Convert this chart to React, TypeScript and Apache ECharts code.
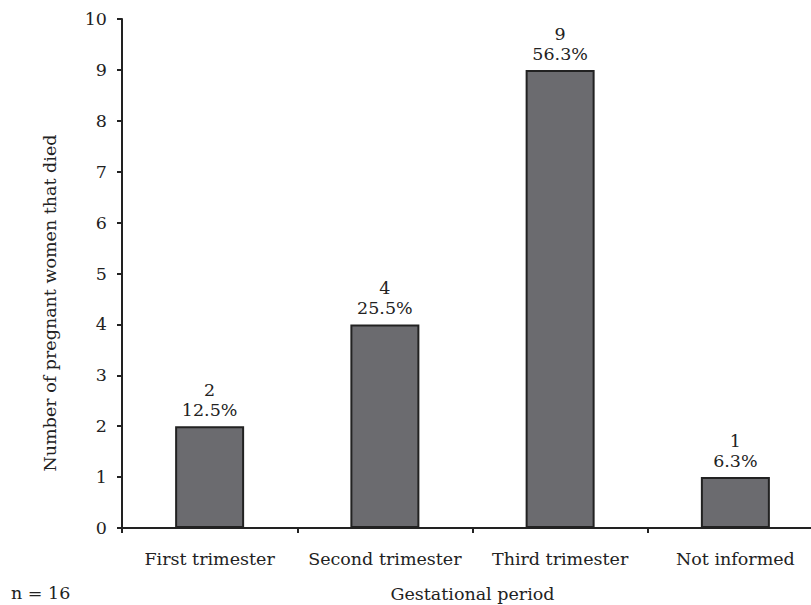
import React, { useEffect, useRef } from "react";
import * as echarts from "echarts";

const categories = ["First trimester", "Second trimester", "Third trimester", "Not informed"];
const counts = [2, 4, 9, 1];
const percents = ["12.5%", "25.5%", "56.3%", "6.3%"];
const yTicks = [0, 1, 2, 3, 4, 5, 6, 7, 8, 9, 10];

const FONT = "DejaVu Serif";
const TXT = "#222";
const FS = 17.5;

export default function App() {
  const ref = useRef<HTMLDivElement>(null);
  useEffect(() => {
    const chart = echarts.init(ref.current!, undefined, { renderer: "svg" });
    chart.setOption({
      animation: false,
      backgroundColor: "#fff",
      textStyle: { fontFamily: FONT },
      grid: { left: 122, top: 19, width: 701, height: 509, containLabel: false, outerBoundsMode: "none" },
      xAxis: {
        type: "category",
        data: categories,
        name: "Gestational period",
        nameLocation: "middle",
        nameGap: 57,
        nameTextStyle: { fontFamily: FONT, fontSize: FS, color: TXT },
        axisLine: { lineStyle: { color: "#222", width: 2 } },
        axisTick: { show: true, length: 5, alignWithLabel: false, lineStyle: { color: "#222", width: 2 } },
        axisLabel: { fontFamily: FONT, fontSize: FS, color: TXT, margin: 22, interval: 0, hideOverlap: false },
      },
      yAxis: {
        type: "value",
        min: yTicks[0],
        max: yTicks[yTicks.length - 1],
        interval: 1,
        axisLine: { show: true, lineStyle: { color: "#222", width: 2 } },
        axisTick: { show: true, length: 5, lineStyle: { color: "#222", width: 2 } },
        splitLine: { show: false },
        axisLabel: { fontFamily: FONT, fontSize: FS, color: TXT, margin: 15 },
      },
      graphic: [
        {
          type: "text",
          x: 50,
          y: 303,
          rotation: Math.PI / 2,
          style: {
            text: "Number of pregnant women that died",
            fontFamily: FONT,
            fontSize: FS,
            fill: TXT,
            align: "center",
            verticalAlign: "middle",
          },
        },
        {
          type: "text",
          x: 11,
          y: 593,
          style: { text: "n = 16", fontFamily: FONT, fontSize: FS, fill: TXT, verticalAlign: "middle" },
        },
      ],
      series: [
        {
          type: "bar",
          data: counts,
          barWidth: 69,
          itemStyle: { color: "#6b6b6f", borderColor: "#222", borderWidth: 2 },
          label: {
            show: true,
            position: "top",
            distance: 6,
            fontFamily: FONT,
            fontSize: FS,
            color: TXT,
            lineHeight: 20,
            align: "center",
            formatter: (p: any) => `${counts[p.dataIndex]}\n${percents[p.dataIndex]}`,
          },
        },
      ],
    });
    return () => chart.dispose();
  }, []);
  return (
    <div style={{ width: 811, height: 605, position: "absolute", left: 0, top: 0, overflow: "hidden" }}>
      <div ref={ref} style={{ width: 811, height: 605 }} />
    </div>
  );
}
